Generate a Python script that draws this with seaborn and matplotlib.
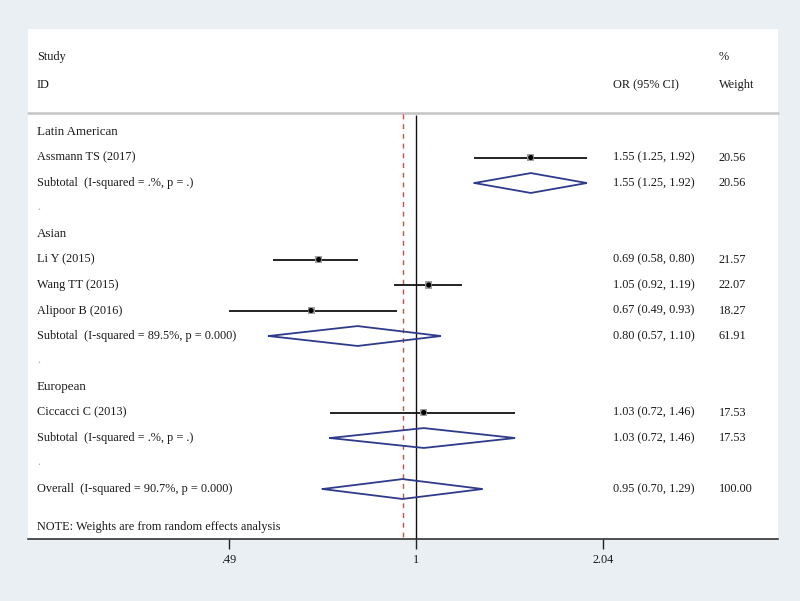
import numpy as np
import pandas as pd
import matplotlib
matplotlib.use("Agg")
import matplotlib.pyplot as plt
import matplotlib.transforms as mtransforms
import seaborn as sns

# ---------------- data ----------------
groups = ["Latin American", "Asian", "European"]
study_names = ["Assmann TS (2017)", "Li Y (2015)", "Wang TT (2015)",
               "Alipoor B (2016)", "Ciccacci C (2013)"]
study_group = ["Latin American", "Asian", "Asian", "Asian", "European"]
study_or = [1.55, 0.69, 1.05, 0.67, 1.03]
study_lo = [1.25, 0.58, 0.92, 0.49, 0.72]
study_hi = [1.92, 0.80, 1.19, 0.93, 1.46]
study_weight = [20.56, 21.57, 22.07, 18.27, 17.53]

subtotal_labels = ["Subtotal  (I-squared = .%, p = .)",
                   "Subtotal  (I-squared = 89.5%, p = 0.000)",
                   "Subtotal  (I-squared = .%, p = .)"]
subtotal_or = [1.55, 0.80, 1.03]
subtotal_lo = [1.25, 0.57, 0.72]
subtotal_hi = [1.92, 1.10, 1.46]
subtotal_weight = [20.56, 61.91, 17.53]

overall_label = "Overall  (I-squared = 90.7%, p = 0.000)"
overall_or = 0.95
overall_lo = 0.70
overall_hi = 1.29
overall_weight = 100.00

note_text = "NOTE: Weights are from random effects analysis"
tick_values = [0.49, 1, 2.04]
tick_labels = [".49", "1", "2.04"]

# ---------------- build rows ----------------
rows = []
for gi, g in enumerate(groups):
    rows.append(("group", g, np.nan, np.nan, np.nan, np.nan))
    for i, s in enumerate(study_names):
        if study_group[i] == g:
            rows.append(("study", s, study_or[i], study_lo[i], study_hi[i], study_weight[i]))
    rows.append(("subtotal", subtotal_labels[gi], subtotal_or[gi], subtotal_lo[gi],
                 subtotal_hi[gi], subtotal_weight[gi]))
    rows.append(("dot", ".", np.nan, np.nan, np.nan, np.nan))
rows.append(("overall", overall_label, overall_or, overall_lo, overall_hi, overall_weight))
df = pd.DataFrame(rows, columns=["kind", "label", "or", "lo", "hi", "w"])
df["y"] = np.arange(len(df), dtype=float)
note_y = len(df) + 0.5

# ---------------- figure ----------------
sns.set_theme(style="white")
plt.rcParams["font.family"] = ["Liberation Serif", "DejaVu Serif"]
FS = 8.8
BG = "#e9eff2"
TXT = "#1a1a1a"
NAVY = "#2e3a8c"

fig = plt.figure(figsize=(8.0, 6.01), dpi=100)
fig.patch.set_facecolor(BG)
W, H = 800, 601
ax = fig.add_axes([28 / W, 1 - 539 / H, 750 / W, 510 / H])
ax.set_facecolor("white")
ax.set_xscale("log")
ax.set_xlim(np.exp(-1.481), np.exp(1.382))
ax.set_ylim(15.96, -4.04)

for sp in ["left", "right", "top"]:
    ax.spines[sp].set_visible(False)
ax.spines["bottom"].set_color("#222222")
ax.spines["bottom"].set_linewidth(1.1)
ax.set_yticks([])
ax.set_xticks(tick_values)
ax.set_xticklabels(tick_labels)
ax.xaxis.set_minor_locator(matplotlib.ticker.NullLocator())
ax.tick_params(axis="x", direction="out", length=7, width=1, color="#222222",
               labelsize=FS, labelcolor=TXT, pad=4, bottom=True)

trans = mtransforms.blended_transform_factory(ax.transAxes, ax.transData)
xl, xor, xw = 0.012, 0.78, 0.921

# header
sep_y = -0.745
ax.text(xl, -2.94, "Study", transform=trans, fontsize=FS, color=TXT, va="center")
ax.text(xl, -1.84, "ID", transform=trans, fontsize=FS, color=TXT, va="center")
ax.text(xor, -1.84, "OR (95% CI)", transform=trans, fontsize=FS, color=TXT, va="center")
ax.text(xw, -2.94, "%", transform=trans, fontsize=FS, color=TXT, va="center")
ax.text(xw, -1.84, "Weight", transform=trans, fontsize=FS, color=TXT, va="center")
ax.plot([0, 1], [sep_y, sep_y], transform=trans, color="#c4c4c4", lw=1.8, clip_on=False)

# reference lines
ax.vlines(1, sep_y + 0.08, 15.96, color="#111111", lw=1.0, zorder=2)
ax.vlines(overall_or, sep_y + 0.02, 15.96, color="#c8504a", lw=1.0,
          linestyles=(0, (3.5, 3.5)), zorder=2)

# labels
for _, r in df.iterrows():
    if r["kind"] == "dot":
        ax.text(xl, r["y"] - 0.05, ".", transform=trans, fontsize=FS, color="#aaaaaa", va="center")
    else:
        fs = FS + 0.6 if r["kind"] == "group" else FS
        ax.text(xl, r["y"], r["label"], transform=trans, fontsize=fs, color=TXT, va="center")
    if r["kind"] in ("study", "subtotal", "overall"):
        ax.text(xor, r["y"], f"{r['or']:.2f} ({r['lo']:.2f}, {r['hi']:.2f})",
                transform=trans, fontsize=FS, color=TXT, va="center")
        ax.text(xw, r["y"], f"{r['w']:.2f}", transform=trans, fontsize=FS,
                color=TXT, va="center")

ax.text(xl, note_y, note_text, transform=trans, fontsize=FS, color=TXT, va="center")

# studies: CI lines + markers
st = df[df["kind"] == "study"]
ax.hlines(st["y"], st["lo"], st["hi"], color="#111111", lw=1.3, zorder=3)
sns.scatterplot(data=st, x="or", y="y", marker="s", s=26, color="#a0a0a0",
                edgecolor="none", ax=ax, zorder=4, legend=False)
sns.scatterplot(data=st, x="or", y="y", marker="o", s=14, color="#000000",
                edgecolor="none", ax=ax, zorder=5, legend=False)

# diamonds
dh = 0.39
for _, r in df[df["kind"].isin(["subtotal", "overall"])].iterrows():
    xs = [r["lo"], r["or"], r["hi"], r["or"], r["lo"]]
    ys = [r["y"], r["y"] - dh, r["y"], r["y"] + dh, r["y"]]
    ax.plot(xs, ys, color=NAVY, lw=1.3, zorder=4, solid_joinstyle="miter")

ax.set_xlabel("")
ax.set_ylabel("")

fig.savefig("out.png", dpi=100, facecolor=BG)
